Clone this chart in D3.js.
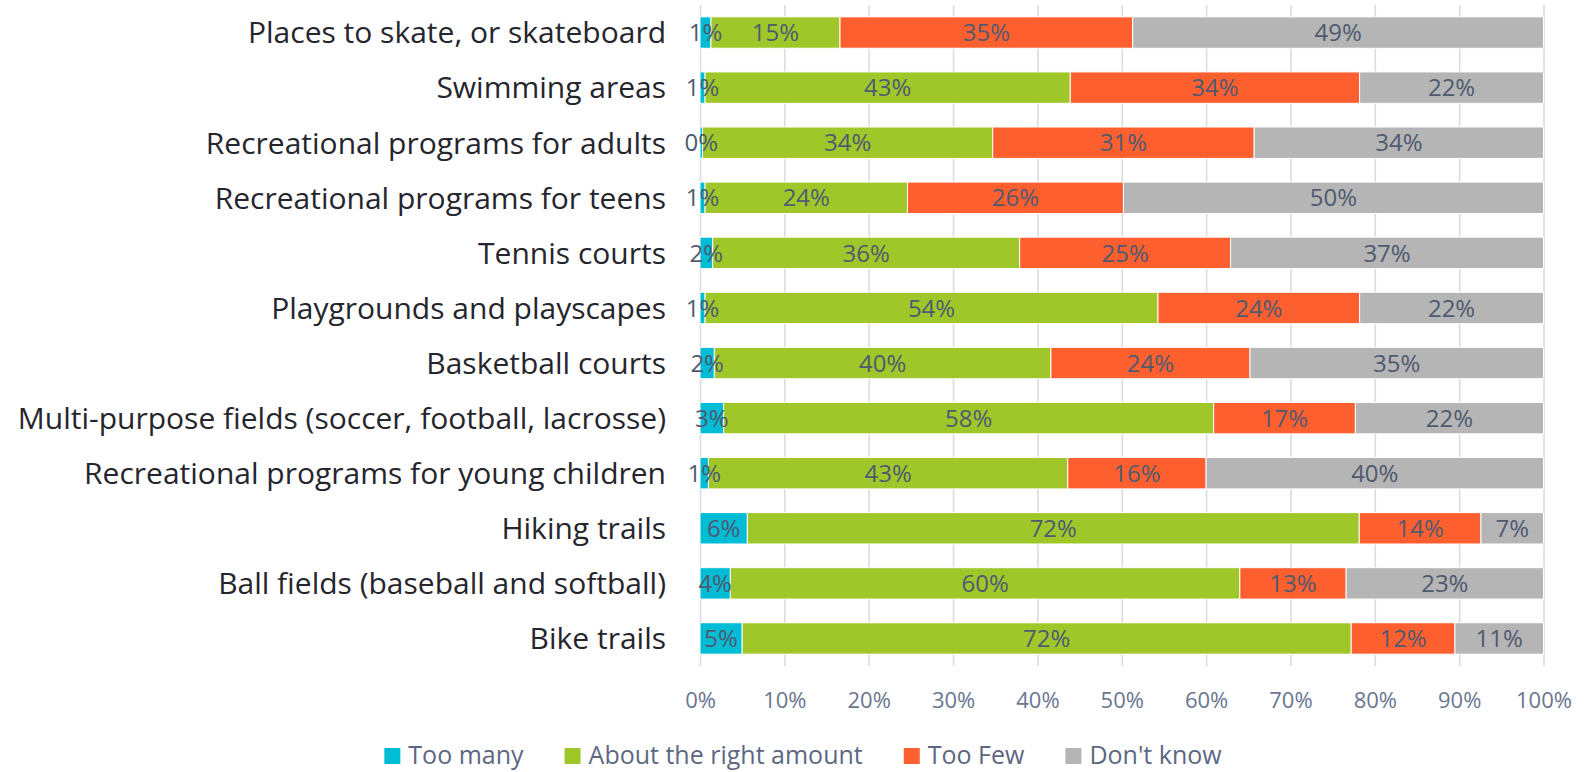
<!DOCTYPE html>
<html>
<head>
<meta charset="utf-8">
<script src="https://cdn.jsdelivr.net/npm/d3@7"></script>
<style>
  html, body { margin: 0; padding: 0; background: #ffffff; }
  svg { display: block; font-family: "Open Sans", "Noto Sans", sans-serif; }
</style>
</head>
<body>
<svg id="chart" width="1586" height="772"></svg>
<script>
const categories = [
  "Places to skate, or skateboard",
  "Swimming areas",
  "Recreational programs for adults",
  "Recreational programs for teens",
  "Tennis courts",
  "Playgrounds and playscapes",
  "Basketball courts",
  "Multi-purpose fields (soccer, football, lacrosse)",
  "Recreational programs for young children",
  "Hiking trails",
  "Ball fields (baseball and softball)",
  "Bike trails"
];
const seriesNames = ["Too many", "About the right amount", "Too Few", "Don't know"];
const tooMany    = [1.3, 0.6, 0.3, 0.6, 1.5, 0.6, 1.7, 2.8, 1.0, 5.6, 3.6, 5.0];
const aboutRight = [15.3, 43.3, 34.4, 24.0, 36.4, 53.7, 39.9, 58.1, 42.6, 72.4, 60.4, 72.2];
const tooFew     = [34.7, 34.3, 31.0, 25.6, 25.0, 23.9, 23.6, 16.8, 16.4, 14.4, 12.6, 12.3];
const dontKnow   = [48.7, 21.8, 34.3, 49.8, 37.1, 21.8, 34.8, 22.3, 40.0, 7.4, 23.4, 10.5];
const tickValues = [0, 10, 20, 30, 40, 50, 60, 70, 80, 90, 100];
const colors = ["#00bcd4", "#9fc72a", "#fe5f2f", "#b5b5b5"];

const seriesValues = [tooMany, aboutRight, tooFew, dontKnow];

const svg = d3.select("#chart");
const plot = { left: 700, right: 1543.5, top: 5, bottom: 666 };

const x = d3.scaleLinear().domain([0, 100]).range([plot.left, plot.right]);
const y = d3.scaleBand().domain(categories).range([plot.top, plot.bottom])
  .paddingInner(0.43).paddingOuter(0.215);

// gridlines + tick labels
const axis = d3.axisBottom(x).tickValues(tickValues).tickFormat(d => d + "%")
  .tickSizeInner(-(plot.bottom - plot.top)).tickSizeOuter(0).tickPadding(26);
const gAxis = svg.append("g").attr("transform", `translate(0,${plot.bottom})`).call(axis);
gAxis.select(".domain").remove();
gAxis.selectAll(".tick line").attr("stroke", "#dadbe5").attr("stroke-width", 1.6);
gAxis.selectAll(".tick text").attr("fill", "#6b7591").style("font-size", "22px")
  .style("font-family", "'Open Sans', sans-serif");

// build normalized stacked rows
const rows = categories.map((c, i) => {
  const vals = seriesValues.map(s => s[i]);
  const total = d3.sum(vals);
  let cum = 0;
  return vals.map((v, k) => {
    const x0 = cum / total * 100;
    cum += v;
    const x1 = cum / total * 100;
    return { cat: c, k, v, x0, x1 };
  });
});

const gBars = svg.append("g");
rows.forEach(segs => {
  gBars.selectAll(null).data(segs).enter().append("rect")
    .attr("x", d => x(d.x0))
    .attr("y", d => y(d.cat))
    .attr("width", d => Math.max(0, x(d.x1) - x(d.x0)))
    .attr("height", y.bandwidth())
    .attr("fill", d => colors[d.k])
    .attr("stroke", "#ffffff").attr("stroke-width", 1);
});

const gLabels = svg.append("g");
rows.forEach(segs => {
  gLabels.selectAll(null).data(segs).enter().append("text")
    .attr("x", d => (x(d.x0) + x(d.x1)) / 2)
    .attr("y", d => y(d.cat) + y.bandwidth() / 2)
    .attr("dy", "0.36em")
    .attr("text-anchor", "middle")
    .attr("fill", "#4f5a70")
    .style("font-size", "24px")
    .text(d => Math.round(d.v) + "%");
});

// category labels
svg.append("g").selectAll("text").data(categories).enter().append("text")
  .attr("x", 666)
  .attr("y", d => y(d) + y.bandwidth() / 2)
  .attr("dy", "0.36em")
  .attr("text-anchor", "end")
  .attr("fill", "#25252d")
  .style("font-size", "30px")
  .text(d => d);

// legend
const legend = svg.append("g");
const items = legend.selectAll("g").data(seriesNames).enter().append("g");
items.append("rect").attr("width", 16).attr("height", 16).attr("y", 748)
  .attr("fill", (d, i) => colors[i]);
items.append("text").attr("x", 24).attr("y", 764)
  .attr("fill", "#5d6782").style("font-size", "25px").text(d => d);
let lx = 0;
const widths = [];
items.each(function() {
  const w = d3.select(this).select("text").node().getComputedTextLength();
  widths.push(24 + w);
});
const gap = 41;
const totalW = d3.sum(widths) + gap * (widths.length - 1);
lx = 803 - totalW / 2;
items.attr("transform", (d, i) => {
  const t = `translate(${lx},0)`;
  lx += widths[i] + gap;
  return t;
});
</script>
</body>
</html>
